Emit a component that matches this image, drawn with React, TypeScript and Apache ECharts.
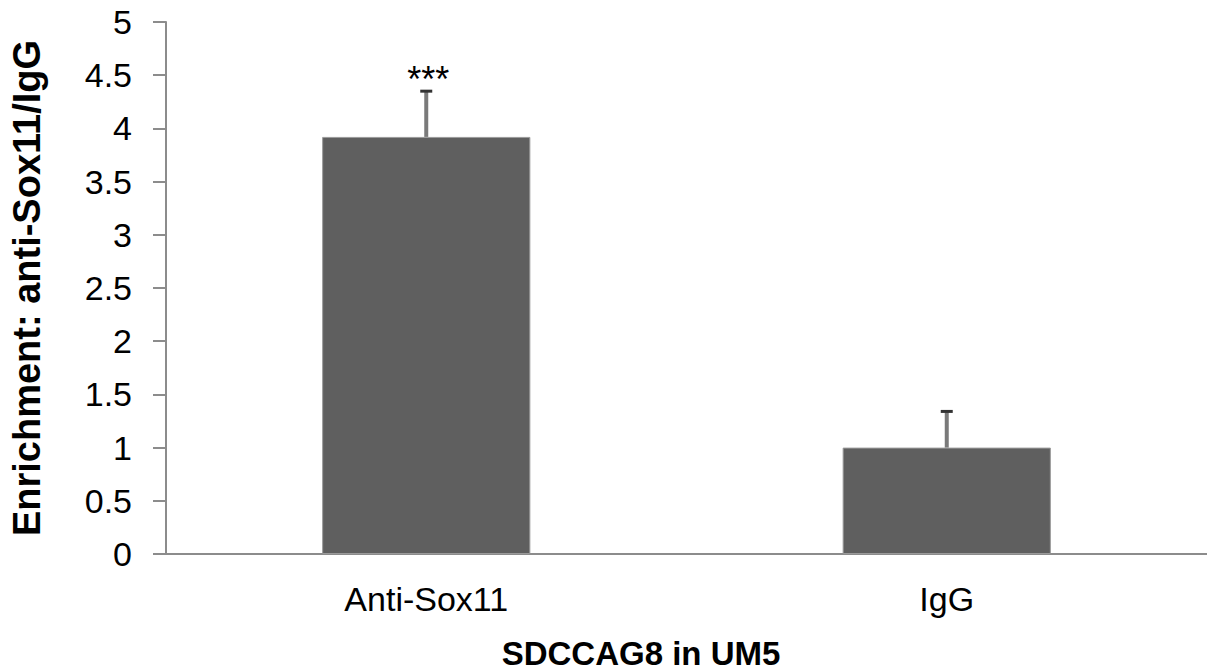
import React, { useEffect, useRef } from "react";
import * as echarts from "echarts";

// ChIP enrichment of SDCCAG8 promoter in UM5 cells
const categories = ["Anti-Sox11", "IgG"];
const enrichment = [3.92, 1.0];
const errorUpper = [0.43, 0.34];
const significance = ["***", ""];
const yTicks = { min: 0, max: 5, interval: 0.5 };

const FONT = "'Liberation Sans', Arial, sans-serif";

export default function App() {
  const ref = useRef<HTMLDivElement>(null);

  useEffect(() => {
    if (!ref.current) return;
    const chart = echarts.init(ref.current, undefined, { renderer: "svg" });

    const errorData = categories.map((_, i) => [i, enrichment[i], enrichment[i] + errorUpper[i], i]);

    chart.setOption({
      animation: false,
      backgroundColor: "#ffffff",
      title: {
        text: "SDCCAG8 in UM5",
        left: 636,
        top: 632,
        textAlign: "center",
        textStyle: { fontFamily: FONT, fontWeight: "bold", fontSize: 33, color: "#000" },
      },
      grid: { left: 164, top: 22, width: 1053, height: 532, containLabel: false },
      xAxis: {
        type: "category",
        data: categories,
        axisLine: { show: true, lineStyle: { color: "#8c8c8c", width: 2 } },
        axisTick: { show: false },
        axisLabel: { fontFamily: FONT, fontSize: 34, color: "#000", margin: 28 },
        splitLine: { show: false },
      },
      yAxis: {
        type: "value",
        min: yTicks.min,
        max: yTicks.max,
        interval: yTicks.interval,
        name: "Enrichment: anti-Sox11/IgG",
        nameLocation: "middle",
        nameGap: 120,
        nameTextStyle: { fontFamily: FONT, fontWeight: "bold", fontSize: 38, color: "#000" },
        axisLine: { show: true, lineStyle: { color: "#8c8c8c", width: 2 } },
        axisTick: { show: true, inside: false, length: 13, lineStyle: { color: "#8c8c8c", width: 2 } },
        axisLabel: { fontFamily: FONT, fontSize: 34, color: "#000", margin: 34 },
        splitLine: { show: false },
      },
      series: [
        {
          type: "bar",
          data: enrichment,
          barWidth: "40%",
          itemStyle: { color: "#5f5f5f", borderColor: "#9a9a9a", borderWidth: 1 },
        },
        {
          type: "custom",
          data: errorData,
          z: 5,
          renderItem: (params: any, api: any) => {
            const x = api.value(0);
            const base = api.coord([x, api.value(1)]);
            const top = api.coord([x, api.value(2)]);
            const idx = api.value(3);
            const capHalf = 6;
            const children: any[] = [
              {
                type: "line",
                shape: { x1: base[0], y1: base[1], x2: top[0], y2: top[1] },
                style: { stroke: "#7a7a7a", lineWidth: 4 },
              },
              {
                type: "line",
                shape: { x1: top[0] - capHalf, y1: top[1], x2: top[0] + capHalf, y2: top[1] },
                style: { stroke: "#333333", lineWidth: 3 },
              },
            ];
            const mark = significance[idx];
            if (mark) {
              children.push({
                type: "text",
                x: top[0] + 2,
                y: top[1] - 12,
                style: {
                  text: mark,
                  fontFamily: FONT,
                  fontSize: 36,
                  fill: "#000",
                  align: "center",
                  verticalAlign: "middle",
                },
              });
            }
            return { type: "group", children };
          },
        },
      ],
    });

    return () => chart.dispose();
  }, []);

  return (
    <div
      ref={ref}
      style={{ position: "fixed", left: 0, top: 0, width: 1207, height: 672, background: "#fff" }}
    />
  );
}
